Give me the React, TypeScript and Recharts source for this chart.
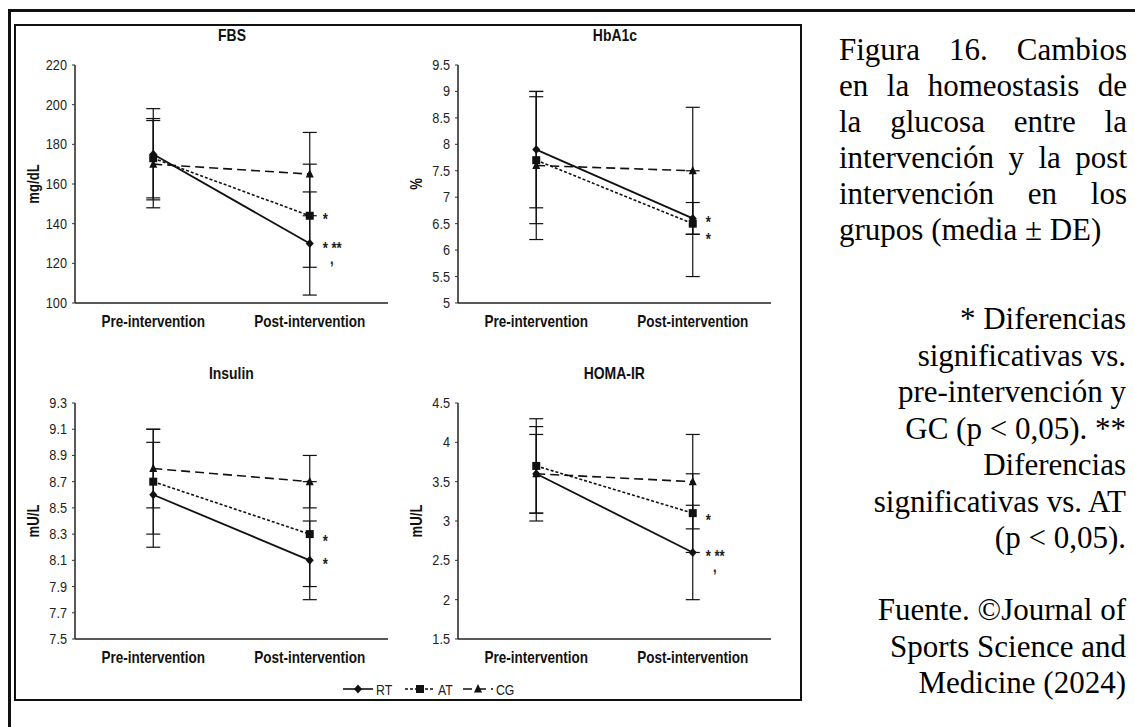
import React from 'react'
import { ErrorBar, Line, LineChart, XAxis, YAxis } from 'recharts'

const phases = ['Pre-intervention', 'Post-intervention']
const groups = ['RT', 'AT', 'CG']

// FBS (mg/dL)
const fbsRT = [175, 130]
const fbsRTsd = [23, 26]
const fbsAT = [173, 144]
const fbsATsd = [20, 26]
const fbsCG = [170, 165]
const fbsCGsd = [22, 21]
const fbsTicks = [100, 120, 140, 160, 180, 200, 220]
const fbsRTnote = ['', '*,**']
const fbsATnote = ['', '*']

// HbA1c (%)
const hbRT = [7.9, 6.6]
const hbRTsd = [1.1, 0.3]
const hbAT = [7.7, 6.5]
const hbATsd = [1.2, 1.0]
const hbCG = [7.6, 7.5]
const hbCGsd = [1.4, 1.2]
const hbTicks = [5, 5.5, 6, 6.5, 7, 7.5, 8, 8.5, 9, 9.5]
const hbRTnote = ['', '*']
const hbATnote = ['', '*']

// Insulin (mU/L)
const insRT = [8.6, 8.1]
const insRTsd = [0.4, 0.3]
const insAT = [8.7, 8.3]
const insATsd = [0.4, 0.4]
const insCG = [8.8, 8.7]
const insCGsd = [0.3, 0.2]
const insTicks = [7.5, 7.7, 7.9, 8.1, 8.3, 8.5, 8.7, 8.9, 9.1, 9.3]
const insRTnote = ['', '*']
const insATnote = ['', '*']

// HOMA-IR
const homaRT = [3.6, 2.6]
const homaRTsd = [0.6, 0.6]
const homaAT = [3.7, 3.1]
const homaATsd = [0.6, 0.5]
const homaCG = [3.6, 3.5]
const homaCGsd = [0.5, 0.6]
const homaTicks = [1.5, 2, 2.5, 3, 3.5, 4, 4.5]
const homaRTnote = ['', '*,**']
const homaATnote = ['', '*']

const captionMain = [
  'Figura 16. Cambios',
  'en la homeostasis de',
  'la glucosa entre la',
  'intervención y la post',
  'intervención en los',
  'grupos (media ± DE)',
]
const captionNote = [
  '* Diferencias',
  'significativas vs.',
  'pre-intervención y',
  'GC (p < 0,05). **',
  'Diferencias',
  'significativas vs. AT',
  '(p < 0,05).',
]
const captionSource = ['Fuente. ©Journal of', 'Sports Science and', 'Medicine (2024)']

// Arial Narrow look-alike: Liberation Sans squeezed horizontally
const sans = "'Liberation Sans', Arial, sans-serif"
const serif = "'Liberation Serif', 'Times New Roman', serif"
const squeeze = 0.82
const ink = '#111'

const seriesStyle: Record<string, { dash?: string; shape: string; width: number }> = {
  RT: { shape: 'diamond', width: 1.8 },
  AT: { dash: '3 2', shape: 'square', width: 1.6 },
  CG: { dash: '9 5', shape: 'triangle', width: 1.6 },
}

function build(
  rt: number[], rtSd: number[], at: number[], atSd: number[],
  cg: number[], cgSd: number[], rtNote: string[], atNote: string[],
) {
  return phases.map((phase, i) => ({
    phase,
    RT: rt[i], RTsd: rtSd[i], RTnote: rtNote[i],
    AT: at[i], ATsd: atSd[i], ATnote: atNote[i],
    CG: cg[i], CGsd: cgSd[i], CGnote: '',
  }))
}

const panels = [
  {
    title: 'FBS', unit: 'mg/dL', ticks: fbsTicks, box: [75, 65, 388, 303], atDy: 0,
    data: build(fbsRT, fbsRTsd, fbsAT, fbsATsd, fbsCG, fbsCGsd, fbsRTnote, fbsATnote),
  },
  {
    title: 'HbA1c', unit: '%', ticks: hbTicks, box: [458, 65, 771, 303], atDy: 12,
    data: build(hbRT, hbRTsd, hbAT, hbATsd, hbCG, hbCGsd, hbRTnote, hbATnote),
  },
  {
    title: 'Insulin', unit: 'mU/L', ticks: insTicks, box: [75, 403, 388, 639], atDy: 4,
    data: build(insRT, insRTsd, insAT, insATsd, insCG, insCGsd, insRTnote, insATnote),
  },
  {
    title: 'HOMA-IR', unit: 'mU/L', ticks: homaTicks, box: [458, 403, 771, 639], atDy: 4,
    data: build(homaRT, homaRTsd, homaAT, homaATsd, homaCG, homaCGsd, homaRTnote, homaATnote),
  },
]

function NText({ x, y, anchor = 'start', size, bold = false, fill = '#222', children }: any) {
  return (
    <text
      transform={`translate(${x},${y}) scale(${squeeze},1)`}
      textAnchor={anchor}
      fontFamily={sans}
      fontSize={size}
      fontWeight={bold ? 700 : 400}
      fill={fill}
    >
      {children}
    </text>
  )
}

function Marker({ shape, cx, cy }: { shape: string; cx: number; cy: number }) {
  const s = 4
  if (shape === 'diamond') {
    return <polygon points={`${cx},${cy - s - 0.5} ${cx + s},${cy} ${cx},${cy + s + 0.5} ${cx - s},${cy}`} fill={ink} />
  }
  if (shape === 'square') {
    return <rect x={cx - s} y={cy - s} width={2 * s} height={2 * s} fill={ink} />
  }
  return <polygon points={`${cx},${cy - s - 1} ${cx + s},${cy + s - 0.5} ${cx - s},${cy + s - 0.5}`} fill={ink} />
}

// "*,**" is typeset as "* **" with the comma dropped onto a second line, as in the source figure
function NoteText({ x, y, text }: { x: number; y: number; text: string }) {
  const parts = text.split(',')
  return (
    <NText x={x + 13} y={y + 9} size={16} bold>
      <tspan>{parts.join(' ')}</tspan>
      {parts.length > 1 && <tspan x={9} dy={10}>,</tspan>}
    </NText>
  )
}

const makeDot = (key: string, noteDy: number) => (p: any) => {
  const note = p.payload?.[`${key}note`]
  return (
    <g key={`${key}-${p.index}`}>
      <Marker shape={seriesStyle[key].shape} cx={p.cx} cy={p.cy} />
      {note ? <NoteText x={p.cx} y={p.cy + noteDy} text={note} /> : null}
    </g>
  )
}

const XTick = (p: any) => (
  <NText x={p.x} y={p.y + 10} anchor="middle" size={16.5} bold fill={ink}>{p.payload.value}</NText>
)

const YTick = (p: any) => (
  <NText x={p.x} y={p.y + 5} anchor="end" size={15.5}>{p.payload.value}</NText>
)

function Panel({ title, unit, data, ticks, box, atDy }: any) {
  const [x0, y0, x1, y1] = box
  const pw = x1 - x0
  const ph = y1 - y0
  const m = { top: 10, right: 10, bottom: 0, left: 20 }
  const yW = 40
  const xH = 34
  const W = pw + m.left + yW + m.right
  const H = ph + m.top + xH + m.bottom
  const domain = [ticks[0], ticks[ticks.length - 1]]

  return (
    <>
      <div
        style={{
          position: 'absolute', left: x0 - 100, width: pw + 200, top: y0 - 38, lineHeight: '18px',
          textAlign: 'center', fontFamily: sans, fontWeight: 700, fontSize: 17, color: ink,
        }}
      >
        <span style={{ display: 'inline-block', transform: `scaleX(${squeeze})` }}>{title}</span>
      </div>
      <div
        style={{
          position: 'absolute', left: x0 - 41 - 50, top: y0 + ph / 2 - 9, width: 100, lineHeight: '18px',
          textAlign: 'center', transform: `rotate(-90deg) scaleX(${squeeze})`, fontFamily: sans,
          fontWeight: 700, fontSize: 16, color: ink,
        }}
      >
        {unit}
      </div>
      <div style={{ position: 'absolute', left: x0 - yW - m.left, top: y0 - m.top }}>
        <LineChart width={W} height={H} data={data} margin={m}>
          <XAxis
            dataKey="phase"
            scale="point"
            padding={{ left: pw / 4, right: pw / 4 }}
            height={xH}
            interval={0}
            tickLine={false}
            tickMargin={8}
            axisLine={{ stroke: '#222', strokeWidth: 1.5 }}
            tick={XTick}
          />
          <XAxis
            xAxisId="top"
            orientation="top"
            dataKey="phase"
            scale="point"
            height={0}
            tick={false}
            tickLine={false}
            axisLine={{ stroke: '#333', strokeWidth: 1.2 }}
          />
          <YAxis
            type="number"
            domain={domain}
            ticks={ticks}
            interval={0}
            width={yW}
            allowDataOverflow
            tickSize={3}
            tickMargin={5}
            tickLine={{ stroke: '#333' }}
            axisLine={{ stroke: '#222', strokeWidth: 1.5 }}
            tick={YTick}
          />
          <YAxis
            yAxisId="right"
            orientation="right"
            type="number"
            domain={domain}
            width={0}
            tick={false}
            tickLine={false}
            axisLine={{ stroke: '#333', strokeWidth: 1.2 }}
          />
          {groups.map((g) => (
            <Line
              key={g}
              dataKey={g}
              stroke={ink}
              strokeWidth={seriesStyle[g].width}
              strokeDasharray={seriesStyle[g].dash}
              dot={makeDot(g, g === 'AT' ? atDy : 1)}
              activeDot={false}
              isAnimationActive={false}
            >
              <ErrorBar dataKey={`${g}sd`} width={7} stroke={ink} strokeWidth={1.2} direction="y" />
            </Line>
          ))}
        </LineChart>
      </div>
    </>
  )
}

function LegendRow() {
  const offsets = [0, 62, 120]
  return (
    <svg width={190} height={20} style={{ position: 'absolute', left: 340, top: 679 }}>
      {groups.map((g, i) => {
        const x = offsets[i] + 3
        const st = seriesStyle[g]
        return (
          <g key={g}>
            <line x1={x} x2={x + 30} y1={10} y2={10} stroke={ink} strokeWidth={1.6} strokeDasharray={st.dash} />
            <Marker shape={st.shape} cx={x + 15} cy={10} />
            <NText x={x + 33} y={15.5} size={15}>{g}</NText>
          </g>
        )
      })}
    </svg>
  )
}

function Caption() {
  const base = {
    position: 'absolute' as const, fontFamily: serif, fontSize: 31, lineHeight: '31px',
    color: '#000', whiteSpace: 'nowrap' as const,
  }
  return (
    <>
      {captionMain.map((t, i) => {
        const last = i === captionMain.length - 1
        return (
          <div
            key={t}
            style={{
              ...base, left: 839, width: 288, top: 60 + 36 * i - 26,
              whiteSpace: 'normal', textAlign: last ? 'left' : 'justify',
              textAlignLast: last ? 'left' : 'justify',
            }}
          >
            {t}
          </div>
        )
      })}
      {captionNote.map((t, i) => (
        <div key={t} style={{ ...base, left: 780, width: 346, textAlign: 'right', top: 329 + 36.5 * i - 26 }}>
          {t}
        </div>
      ))}
      {captionSource.map((t, i) => (
        <div key={t} style={{ ...base, left: 780, width: 346, textAlign: 'right', top: 620 + 36.5 * i - 26 }}>
          {t}
        </div>
      ))}
    </>
  )
}

export default function App() {
  return (
    <div style={{ position: 'absolute', left: 0, top: 0, width: 1135, height: 727, background: '#fff', overflow: 'hidden' }}>
      <div
        style={{
          position: 'absolute', left: 8, top: 9, right: 0, bottom: 0,
          borderTop: '3px solid #111', borderLeft: '3px solid #111',
        }}
      />
      <div
        style={{
          position: 'absolute', left: 14, top: 24, width: 788, height: 677,
          border: '2px solid #111', boxSizing: 'border-box',
        }}
      />
      {panels.map((p) => (
        <Panel key={p.title} {...p} />
      ))}
      <LegendRow />
      <Caption />
    </div>
  )
}
